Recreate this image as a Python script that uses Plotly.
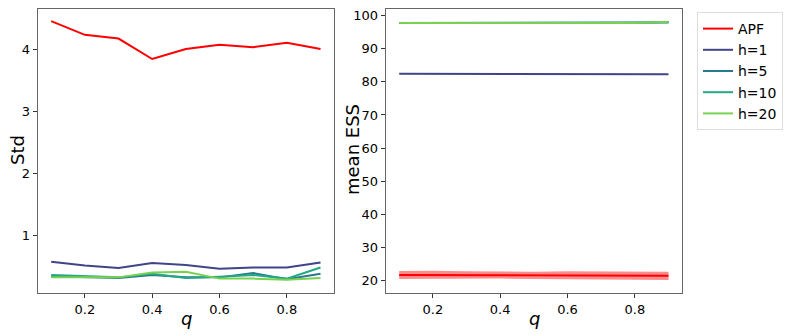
import plotly.graph_objects as go

q = [0.1, 0.2, 0.3, 0.4, 0.5, 0.6, 0.7, 0.8, 0.9]
series_names = ["APF", "h=1", "h=5", "h=10", "h=20"]
colors = ["#ff0000", "#414487", "#2a788e", "#22a884", "#7ad151"]
band_color = "rgba(255,0,0,0.45)"

std_apf = [4.45, 4.23, 4.17, 3.84, 4.00, 4.07, 4.03, 4.10, 4.00]
std_h1 = [0.57, 0.51, 0.47, 0.55, 0.52, 0.46, 0.48, 0.48, 0.56]
std_h5 = [0.34, 0.33, 0.31, 0.36, 0.32, 0.32, 0.39, 0.29, 0.38]
std_h10 = [0.36, 0.34, 0.32, 0.38, 0.31, 0.33, 0.36, 0.30, 0.48]
std_h20 = [0.32, 0.32, 0.32, 0.40, 0.41, 0.30, 0.30, 0.28, 0.31]

ess_apf = [21.6, 21.6, 21.5, 21.5, 21.5, 21.5, 21.5, 21.4, 21.4]
ess_apf_lo = [20.4, 20.5, 20.4, 20.5, 20.4, 20.3, 20.4, 20.3, 20.1]
ess_apf_hi = [22.8, 22.9, 22.7, 22.6, 22.6, 22.7, 22.6, 22.6, 22.6]
ess_h1 = [82.5, 82.5, 82.4, 82.4, 82.4, 82.4, 82.4, 82.4, 82.3]
ess_h5 = [97.8, 97.8, 97.8, 97.8, 97.8, 97.8, 97.8, 97.8, 98.0]
ess_h10 = [97.8, 97.8, 97.8, 97.8, 97.8, 97.8, 97.8, 97.9, 98.1]
ess_h20 = [97.8, 97.8, 97.8, 97.8, 97.8, 97.8, 97.8, 97.8, 98.2]

std_series = [std_apf, std_h1, std_h5, std_h10, std_h20]
ess_series = [ess_apf, ess_h1, ess_h5, ess_h10, ess_h20]

fig = go.Figure()

for name, col, ys in zip(series_names, colors, std_series):
    fig.add_trace(go.Scatter(x=q, y=ys, mode="lines", name=name,
                             line=dict(color=col, width=2), xaxis="x", yaxis="y"))

# band for APF ESS
fig.add_trace(go.Scatter(x=q, y=ess_apf_hi, xaxis="x2", yaxis="y2", mode="lines",
                         line=dict(width=0), showlegend=False, hoverinfo="skip"))
fig.add_trace(go.Scatter(x=q, y=ess_apf_lo, xaxis="x2", yaxis="y2", mode="lines",
                         line=dict(width=0), fill="tonexty", fillcolor=band_color,
                         showlegend=False, hoverinfo="skip"))

for name, col, ys in zip(series_names, colors, ess_series):
    fig.add_trace(go.Scatter(x=q, y=ys, mode="lines", name=name, showlegend=False,
                             line=dict(color=col, width=2), xaxis="x2", yaxis="y2"))

axis_common = dict(showgrid=False, zeroline=False, showline=True, mirror=True,
                   linecolor="#666666", linewidth=1, ticks="outside", ticklen=4,
                   tickcolor="#333333", automargin=False,
                   tickfont=dict(family="DejaVu Sans", size=13, color="#000"))

# page offset (browser body margin)
OFF = 8
W, H = 797, 335
ml, mt = 29, 1
mr = W - (682 - OFF)
mb = round(H - (292.7 - OFF))
pw = W - ml - mr
ph = H - mt - mb


def px(xp):
    return (xp - OFF - ml) / pw


def py(yp):
    return 1 - (yp - OFF - mt) / ph


title_font = dict(family="DejaVu Sans", size=18, color="#000")
annotations = [
    dict(text="Std", x=17, y=150, textangle=-90),
    dict(text="mean ESS", x=352, y=150, textangle=-90),
    dict(text="<i>q</i>", x=186, y=318, textangle=0),
    dict(text="<i>q</i>", x=534, y=318, textangle=0),
]
ann = []
for a in annotations:
    ann.append(dict(text=a["text"], x=px(a["x"]), y=py(a["y"]), xref="paper", yref="paper",
                    xanchor="center", yanchor="middle", showarrow=False, textangle=a["textangle"],
                    font=title_font))

fig.update_layout(
    width=W, height=H,
    margin=dict(l=ml, r=mr, t=mt, b=mb, autoexpand=False),
    paper_bgcolor="white", plot_bgcolor="white",
    xaxis=dict(domain=[px(37.7), px(334)], range=[0.06, 0.94], tickvals=[0.2, 0.4, 0.6, 0.8],
               ticktext=["0.2", "0.4", "0.6", "0.8"], **axis_common),
    yaxis=dict(domain=[0, 1], range=[0.068, 4.646], tickvals=[1, 2, 3, 4], **axis_common),
    xaxis2=dict(domain=[px(385.7), 1.0], range=[0.06, 0.94], anchor="y2",
                tickvals=[0.2, 0.4, 0.6, 0.8], ticktext=["0.2", "0.4", "0.6", "0.8"], **axis_common),
    yaxis2=dict(domain=[0, 1], range=[16.15, 102.05], anchor="x2",
                tickvals=[20, 30, 40, 50, 60, 70, 80, 90, 100], **axis_common),
    legend=dict(x=px(697), y=py(12), xanchor="left", yanchor="top",
                bordercolor="#dddddd", borderwidth=1, bgcolor="white",
                font=dict(family="DejaVu Sans", size=14, color="#000"),
                traceorder="normal", tracegroupgap=0, itemwidth=30),
    annotations=ann,
    showlegend=True,
)

fig.write_html("out.html")
